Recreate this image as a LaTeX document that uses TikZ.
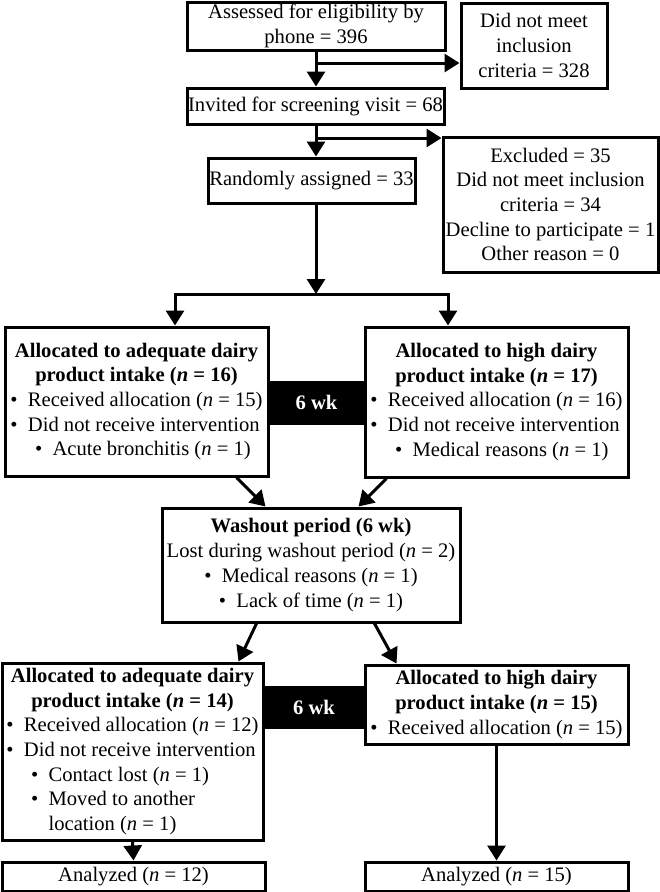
\documentclass[tikz,border=0pt]{standalone}
\usepackage{fontspec}
\setmainfont{Liberation Serif}
\usetikzlibrary{arrows.meta}

\newcommand{\nn}{\textit{n}}
\newcommand{\bul}{\textbullet\enspace}
\newcommand{\subbul}{\hspace{1.2em}\textbullet\enspace}
\newcommand{\subcont}{\hspace{1.2em}\phantom{\textbullet}\enspace}
\newcommand{\ctr}[1]{\multicolumn{1}{@{}c@{}}{#1}}

\tikzset{every picture/.style={line width=3pt}}
\tikzset{
  box/.style={draw, rectangle, inner sep=1pt, align=center, font=\fontsize{20.6}{24.7}\selectfont},
  wkbox/.style={draw, fill=black, text=white, inner sep=0pt, font=\fontsize{20.6}{24.7}\selectfont\bfseries},
  arr/.style={-{Triangle[length=15pt,width=18pt]}}
}

\begin{document}
\begin{tikzpicture}[x=1pt,y=1pt,yscale=-1]
\useasboundingbox (0,0) rectangle (660,892);

% Screening
\node[box, minimum width=258pt, minimum height=48pt] (assess) at (316,26) {Assessed for eligibility by\\phone = 396};
\node[box, minimum width=146pt, minimum height=85pt] (notmeet) at (534,45.5) {Did not meet\\inclusion\\criteria = 328};
\node[box, minimum width=257pt, minimum height=36pt] (invited) at (315.5,106) {Invited for screening visit = 68};
\node[box, minimum width=207pt, minimum height=45pt] (random) at (311.5,180.5) {Randomly assigned = 33};
\node[box, minimum width=215pt, minimum height=135pt] (excluded) at (550.5,204.5) {Excluded = 35\\Did not meet inclusion\\criteria = 34\\Decline to participate = 1\\Other reason = 0};

% First period
\node[box, minimum width=263pt, minimum height=149pt] (allocA) at (136.5,401.5) {\begin{tabular}{@{}l@{}}
\ctr{\textbf{Allocated to adequate dairy}}\\
\ctr{\textbf{product intake (\nn{} = 16)}}\\
\bul Received allocation (\nn{} = 15)\\
\bul Did not receive intervention\\
\subbul Acute bronchitis (\nn{} = 1)
\end{tabular}};
\node[wkbox, minimum width=97pt, minimum height=41pt] (gapA) at (316.5,402.5) {6 wk};
\node[box, minimum width=263pt, minimum height=150pt] (allocB) at (496.5,402) {\begin{tabular}{@{}l@{}}
\ctr{\textbf{Allocated to high dairy}}\\
\ctr{\textbf{product intake (\nn{} = 17)}}\\
\bul Received allocation (\nn{} = 16)\\
\bul Did not receive intervention\\
\subbul Medical reasons (\nn{} = 1)
\end{tabular}};

% Washout
\node[box, minimum width=298pt, minimum height=114pt] (washout) at (311,565) {\textbf{Washout period (6 wk)}\\Lost during washout period (\nn{} = 2)\\\bul Medical reasons (\nn{} = 1)\\\bul Lack of time (\nn{} = 1)};

% Second period
\node[box, minimum width=261pt, minimum height=177pt] (allocC) at (132.5,751.5) {\begin{tabular}{@{}l@{}}
\ctr{\textbf{Allocated to adequate dairy}}\\
\ctr{\textbf{product intake (\nn{} = 14)}}\\
\bul Received allocation (\nn{} = 12)\\
\bul Did not receive intervention\\
\subbul Contact lost (\nn{} = 1)\\
\subbul Moved to another\\
\subcont location (\nn{} = 1)
\end{tabular}};
\node[wkbox, minimum width=102pt, minimum height=40pt] (gapB) at (314,707) {6 wk};
\node[box, minimum width=263pt, minimum height=79pt] (allocD) at (496.5,704.5) {\begin{tabular}{@{}l@{}}
\ctr{\textbf{Allocated to high dairy}}\\
\ctr{\textbf{product intake (\nn{} = 15)}}\\
\bul Received allocation (\nn{} = 15)
\end{tabular}};

% Analysis
\node[box, minimum width=263pt, minimum height=29pt] (anaC) at (133.5,876.5) {Analyzed (\nn{} = 12)};
\node[box, minimum width=263pt, minimum height=29pt] (anaD) at (496.5,876.5) {Analyzed (\nn{} = 15)};

% Connectors
\coordinate (br1) at (316,63);
\coordinate (br2) at (316,138);
\coordinate (split) at (316,294);
\coordinate (splitL) at (175,294);
\coordinate (splitR) at (448,294);

\draw[arr] (assess.south) -- (assess.south |- invited.north);
\draw[arr] (br1) -- (br1 -| notmeet.west);
\draw[arr] (invited.south -| assess.south) -- (assess.south |- random.north);
\draw[arr] (br2) -- (br2 -| excluded.west);
\draw[arr] (random.south -| split) -- (split);
\draw[arr] (split) -| (splitL |- allocA.north);
\draw[arr] (split) -| (splitR |- allocB.north);
\draw[arr] ([xshift=-33pt]allocA.south east) -- ([xshift=105pt]washout.north west);
\draw[arr] ([xshift=23pt]allocB.south west) -- ([xshift=-103pt]washout.north east);
\draw[arr] ([xshift=96pt]washout.south west) -- ([xshift=-26pt]allocC.north east);
\draw[arr] ([xshift=-87pt]washout.south east) -- ([xshift=33pt]allocD.north west);
\draw[arr] (allocC.south) -- (anaC.north);
\draw[arr] (allocD.south) -- (anaD.north);

\end{tikzpicture}
\end{document}
